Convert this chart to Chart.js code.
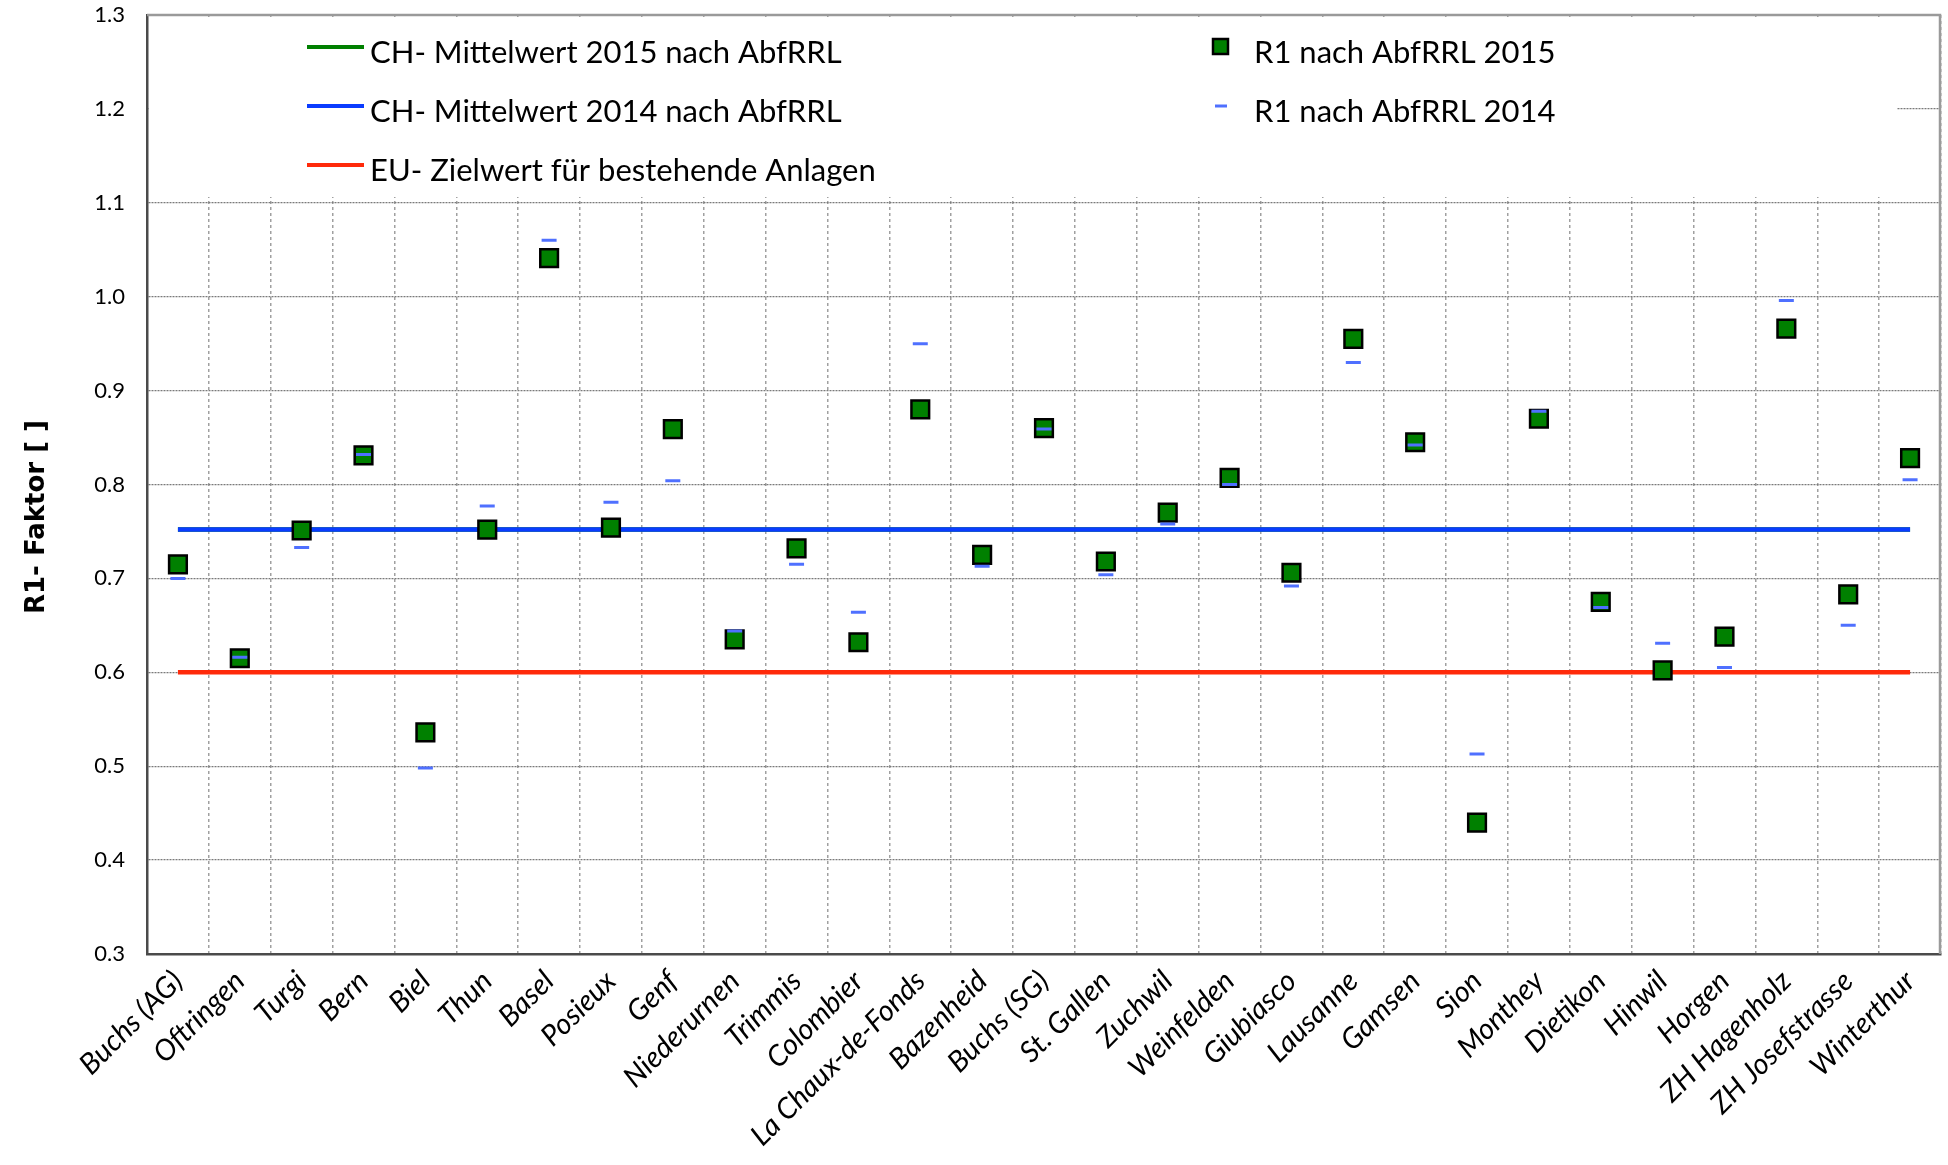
<!DOCTYPE html>
<html>
<head>
<meta charset="utf-8">
<script src="https://cdn.jsdelivr.net/npm/chart.js@4.4.1/dist/chart.umd.min.js"></script>
<style>
  html, body { margin: 0; padding: 0; background: #fff; }
  #wrap { width: 1948px; height: 1165px; }
</style>
</head>
<body>
<div id="wrap"><canvas id="chart" width="1948" height="1165"></canvas></div>
<script>
// Anlagen (Kategorien)
const anlagen = ["Buchs (AG)", "Oftringen", "Turgi", "Bern", "Biel", "Thun", "Basel", "Posieux", "Genf",
  "Niederurnen", "Trimmis", "Colombier", "La Chaux-de-Fonds", "Bazenheid", "Buchs (SG)", "St. Gallen",
  "Zuchwil", "Weinfelden", "Giubiasco", "Lausanne", "Gamsen", "Sion", "Monthey", "Dietikon", "Hinwil",
  "Horgen", "ZH Hagenholz", "ZH Josefstrasse", "Winterthur"];

// R1 nach AbfRRL 2015
const r1_2015 = [0.715, 0.615, 0.751, 0.831, 0.536, 0.752, 1.041, 0.754, 0.859,
  0.635, 0.732, 0.632, 0.880, 0.725, 0.860, 0.718,
  0.770, 0.807, 0.706, 0.955, 0.845, 0.440, 0.870, 0.675, 0.602,
  0.638, 0.966, 0.683, 0.828];

// R1 nach AbfRRL 2014
const r1_2014 = [0.700, 0.616, 0.733, 0.832, 0.498, 0.777, 1.060, 0.781, 0.804,
  0.644, 0.715, 0.664, 0.950, 0.713, 0.859, 0.704,
  0.758, 0.800, 0.692, 0.930, 0.842, 0.513, 0.878, 0.669, 0.631,
  0.605, 0.996, 0.650, 0.805];

// Mittelwerte / Zielwert
const mittel2015 = 0.752;
const mittel2014 = 0.752;
const euZielwert = 0.600;

const yTicks = [0.3, 0.4, 0.5, 0.6, 0.7, 0.8, 0.9, 1.0, 1.1, 1.2, 1.3];

const schrift = "Lato, 'Open Sans', sans-serif";
const gruen = "#008000";
const blauLinie = "#0a3cff";
const rot = "#ff2a0a";
const blauStrich = "#4f70ff";

function waagrecht(wert) {
  return [{ x: anlagen[0], y: wert }, { x: anlagen[anlagen.length - 1], y: wert }];
}

// Rahmen, weisses Legendenfeld, Legende und Y-Titel
const extras = {
  id: "extras",
  beforeDatasetsDraw(chart) {
    const ctx = chart.ctx;
    const a = chart.chartArea;
    ctx.save();
    ctx.fillStyle = "#fff";
    ctx.fillRect(a.left + 2, a.top + 2, 1895 - a.left, 195 - a.top);
    ctx.restore();
  },
  afterDraw(chart) {
    const ctx = chart.ctx;
    const a = chart.chartArea;
    ctx.save();
    // oberer und rechter Rahmen
    ctx.strokeStyle = "#9a9a9a";
    ctx.lineWidth = 2.5;
    ctx.beginPath();
    ctx.moveTo(a.left, a.top);
    ctx.lineTo(a.right - 1, a.top);
    ctx.lineTo(a.right - 1, a.bottom);
    ctx.stroke();

    // Legende
    ctx.font = "31px " + schrift;
    ctx.fillStyle = "#000";
    ctx.textBaseline = "middle";
    const links = [
      ["CH- Mittelwert 2015 nach AbfRRL", gruen, 53],
      ["CH- Mittelwert 2014 nach AbfRRL", blauLinie, 112],
      ["EU- Zielwert für bestehende Anlagen", rot, 171]
    ];
    links.forEach(function(z) {
      ctx.strokeStyle = z[1];
      ctx.lineWidth = 4;
      ctx.beginPath();
      ctx.moveTo(307, z[2] - 6);
      ctx.lineTo(364, z[2] - 6);
      ctx.stroke();
      ctx.fillText(z[0], 370, z[2]);
    });
    // R1 2015 Marker
    ctx.fillStyle = gruen;
    ctx.fillRect(1213, 39, 15, 15);
    ctx.strokeStyle = "#000";
    ctx.lineWidth = 2.5;
    ctx.strokeRect(1213, 39, 15, 15);
    // R1 2014 Marker
    ctx.strokeStyle = blauStrich;
    ctx.lineWidth = 3;
    ctx.beginPath();
    ctx.moveTo(1215, 106);
    ctx.lineTo(1227, 106);
    ctx.stroke();
    ctx.fillStyle = "#000";
    ctx.fillText("R1 nach AbfRRL 2015", 1254, 53);
    ctx.fillText("R1 nach AbfRRL 2014", 1254, 112);

    // Y-Achsentitel
    ctx.translate(37, 517);
    ctx.rotate(-Math.PI / 2);
    ctx.font = "bold 26px 'DejaVu Sans', Verdana, sans-serif";
    ctx.textAlign = "center";
    ctx.fillText("R1- Faktor [ ]", 0, 0);
    ctx.restore();
  }
};

const ctx = document.getElementById("chart").getContext("2d");
new Chart(ctx, {
  type: "line",
  data: {
    labels: anlagen,
    datasets: [
      {
        label: "R1 nach AbfRRL 2014",
        data: r1_2014,
        showLine: false,
        pointStyle: "line",
        pointRadius: 7.5,
        pointBorderWidth: 3,
        pointBorderColor: blauStrich,
        pointBackgroundColor: blauStrich,
        order: 0
      },
      {
        label: "R1 nach AbfRRL 2015",
        data: r1_2015,
        showLine: false,
        pointStyle: "rect",
        pointRadius: 12.5,
        pointBorderWidth: 2.5,
        pointBorderColor: "#000",
        pointBackgroundColor: gruen,
        order: 1
      },
      {
        label: "CH- Mittelwert 2014 nach AbfRRL",
        data: waagrecht(mittel2014),
        borderColor: blauLinie,
        borderWidth: 4.5,
        pointRadius: 0,
        order: 2
      },
      {
        label: "CH- Mittelwert 2015 nach AbfRRL",
        data: waagrecht(mittel2015),
        borderColor: gruen,
        borderWidth: 4.5,
        pointRadius: 0,
        order: 3
      },
      {
        label: "EU- Zielwert für bestehende Anlagen",
        data: waagrecht(euZielwert),
        borderColor: rot,
        borderWidth: 4.5,
        pointRadius: 0,
        order: 4
      }
    ]
  },
  options: {
    responsive: false,
    animation: false,
    devicePixelRatio: 1,
    layout: { autoPadding: false, padding: { left: 0, right: 7, top: 15, bottom: 0 } },
    plugins: {
      legend: { display: false },
      tooltip: { enabled: false }
    },
    scales: {
      x: {
        type: "category",
        offset: true,
        grid: {
          offset: true,
          drawTicks: false,
          color: "#a0a0a0",
          lineWidth: 1.5
        },
        border: { display: true, color: "#4a4a4a", width: 2.5, dash: [3, 3] },
        ticks: {
          autoSkip: false,
          minRotation: 45,
          maxRotation: 45,
          padding: 10,
          color: "#000",
          font: { family: schrift, size: 29, style: "italic" }
        },
        afterFit: function(scale) {
          scale.height = 1165 - 954;
          scale.paddingTop = 0;
          scale.paddingLeft = 0;
          scale.paddingRight = 0;
        }
      },
      y: {
        min: 0.3,
        max: 1.3,
        afterBuildTicks: function(scale) {
          scale.ticks = yTicks.map(function(v) { return { value: v }; });
        },
        grid: {
          drawTicks: false,
          color: "#7a7a7a",
          lineWidth: 1.2
        },
        border: { display: true, color: "#4a4a4a", width: 2.5, dash: [2, 1] },
        ticks: {
          padding: 22,
          color: "#000",
          font: { family: schrift, size: 22 },
          callback: function(v) { return v.toFixed(1); }
        },
        afterFit: function(scale) {
          scale.width = 147;
          scale.paddingTop = 0;
          scale.paddingBottom = 0;
        }
      }
    }
  },
  plugins: [extras]
});
</script>
</body>
</html>
